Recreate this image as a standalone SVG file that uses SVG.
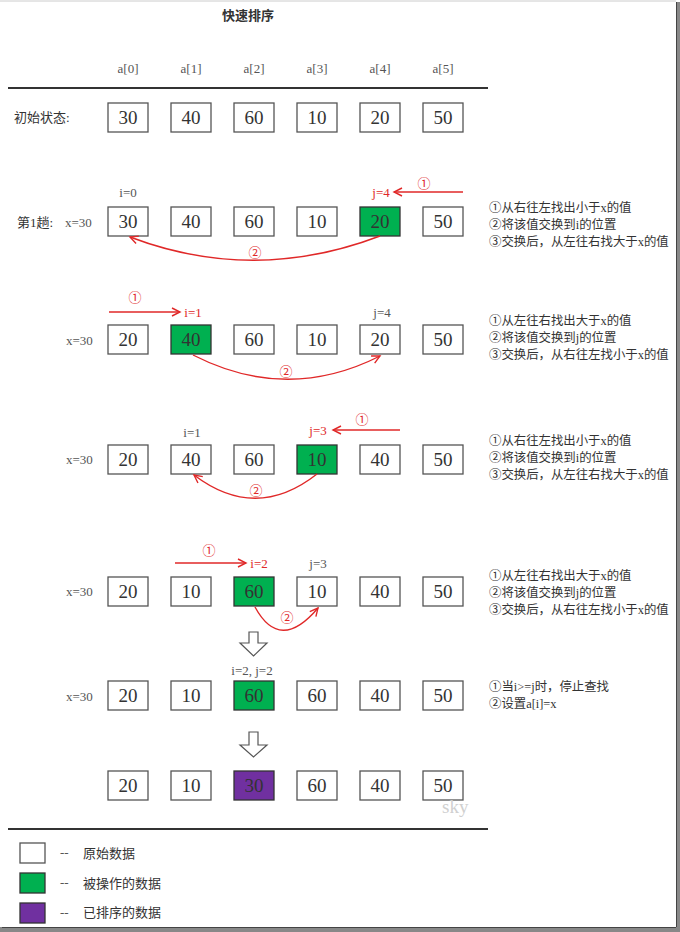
<svg xmlns="http://www.w3.org/2000/svg" width="680" height="932" viewBox="0 0 680 932">
<style>
text{font-family:"Liberation Serif","Noto Sans CJK SC",serif;}
.t{font-size:13px;fill:#333;}
.s{font-size:12.4px;fill:#333;}
.g{font-size:13px;fill:#555;}
.c{text-anchor:middle;}
.r{font-size:13px;fill:#e02828;}
.num{font-size:19px;fill:#333;text-anchor:middle;}
.box{fill:#fff;stroke:#555;stroke-width:1.3;}
.grn{fill:#00b050;stroke:#333;stroke-width:1.3;}
.pur{fill:#7030a0;stroke:#333;stroke-width:1.3;}
.red{fill:none;stroke:#e02828;stroke-width:1.4;}
.hol{fill:#fff;stroke:#555;stroke-width:1.2;}
</style>
<defs>
<marker id="ah" markerUnits="userSpaceOnUse" markerWidth="12" markerHeight="12" refX="9" refY="5" orient="auto">
<path d="M1,1 L9,5 L1,9" fill="none" stroke="#e02828" stroke-width="1.4"/>
</marker>
</defs>
<rect x="0" y="0" width="680" height="932" fill="#fff"/>
<line x1="0" y1="1" x2="676" y2="1" stroke="#ccc" stroke-width="1"/>
<rect x="676" y="2" width="4" height="930" fill="#888"/>
<rect x="0" y="927" width="680" height="5" fill="#888"/>
<line x1="676.5" y1="2" x2="676.5" y2="927" stroke="#444" stroke-width="1"/>
<line x1="2" y1="927.5" x2="676" y2="927.5" stroke="#444" stroke-width="1"/>

<g id="title"><text class="t c" x="248" y="20" font-weight="bold">快速排序</text></g>
<g id="headers">
<text class="g c" x="128" y="73">a[0]</text>
<text class="g c" x="191" y="73">a[1]</text>
<text class="g c" x="254" y="73">a[2]</text>
<text class="g c" x="317" y="73">a[3]</text>
<text class="g c" x="380" y="73">a[4]</text>
<text class="g c" x="443" y="73">a[5]</text>
</g>
<line x1="8" y1="88" x2="488" y2="88" stroke="#333" stroke-width="2"/>

<g id="row0">
<text class="t" x="14" y="122">初始状态:</text>
<rect class="box" x="108" y="103" width="40" height="29"/><text class="num" x="128" y="124">30</text>
<rect class="box" x="171" y="103" width="40" height="29"/><text class="num" x="191" y="124">40</text>
<rect class="box" x="234" y="103" width="40" height="29"/><text class="num" x="254" y="124">60</text>
<rect class="box" x="297" y="103" width="40" height="29"/><text class="num" x="317" y="124">10</text>
<rect class="box" x="360" y="103" width="40" height="29"/><text class="num" x="380" y="124">20</text>
<rect class="box" x="423" y="103" width="40" height="29"/><text class="num" x="443" y="124">50</text>
</g>

<g id="row1">
<text class="t" x="17" y="227">第1趟:</text>
<text class="g" x="65" y="227">x=30</text>
<text class="g c" x="128" y="197">i=0</text>
<text class="r c" x="381" y="197">j=4</text>
<text class="r c" x="424" y="188">①</text>
<rect class="box" x="108" y="207" width="40" height="29"/><text class="num" x="128" y="228">30</text>
<rect class="box" x="171" y="207" width="40" height="29"/><text class="num" x="191" y="228">40</text>
<rect class="box" x="234" y="207" width="40" height="29"/><text class="num" x="254" y="228">60</text>
<rect class="box" x="297" y="207" width="40" height="29"/><text class="num" x="317" y="228">10</text>
<rect class="grn" x="360" y="207" width="40" height="29"/><text class="num" x="380" y="228">20</text>
<rect class="box" x="423" y="207" width="40" height="29"/><text class="num" x="443" y="228">50</text>
<text class="r c" x="255" y="257">②</text>
<text class="s" x="489" y="212">①从右往左找出小于x的值</text>
<text class="s" x="489" y="229">②将该值交换到i的位置</text>
<text class="s" x="489" y="246">③交换后，从左往右找大于x的值</text>
</g>

<g id="row2">
<text class="g" x="66" y="345">x=30</text>
<text class="r c" x="135" y="302">①</text>
<text class="r c" x="193" y="317">i=1</text>
<text class="g c" x="382" y="317">j=4</text>
<rect class="box" x="108" y="325" width="40" height="29"/><text class="num" x="128" y="346">20</text>
<rect class="grn" x="171" y="325" width="40" height="29"/><text class="num" x="191" y="346">40</text>
<rect class="box" x="234" y="325" width="40" height="29"/><text class="num" x="254" y="346">60</text>
<rect class="box" x="297" y="325" width="40" height="29"/><text class="num" x="317" y="346">10</text>
<rect class="box" x="360" y="325" width="40" height="29"/><text class="num" x="380" y="346">20</text>
<rect class="box" x="423" y="325" width="40" height="29"/><text class="num" x="443" y="346">50</text>
<text class="r c" x="286" y="376">②</text>
<text class="s" x="489" y="325">①从左往右找出大于x的值</text>
<text class="s" x="489" y="342">②将该值交换到j的位置</text>
<text class="s" x="489" y="359">③交换后，从右往左找小于x的值</text>
</g>

<g id="row3">
<text class="g" x="66" y="464">x=30</text>
<text class="r c" x="362" y="424">①</text>
<text class="r c" x="318" y="435">j=3</text>
<text class="g c" x="192" y="437">i=1</text>
<rect class="box" x="108" y="445" width="40" height="29"/><text class="num" x="128" y="466">20</text>
<rect class="box" x="171" y="445" width="40" height="29"/><text class="num" x="191" y="466">40</text>
<rect class="box" x="234" y="445" width="40" height="29"/><text class="num" x="254" y="466">60</text>
<rect class="grn" x="297" y="445" width="40" height="29"/><text class="num" x="317" y="466">10</text>
<rect class="box" x="360" y="445" width="40" height="29"/><text class="num" x="380" y="466">40</text>
<rect class="box" x="423" y="445" width="40" height="29"/><text class="num" x="443" y="466">50</text>
<text class="r c" x="256" y="495">②</text>
<text class="s" x="489" y="445">①从右往左找出小于x的值</text>
<text class="s" x="489" y="462">②将该值交换到i的位置</text>
<text class="s" x="489" y="479">③交换后，从左往右找大于x的值</text>
</g>

<g id="row4">
<text class="g" x="66" y="596">x=30</text>
<text class="r c" x="209" y="555">①</text>
<text class="r c" x="259" y="568">i=2</text>
<text class="g c" x="318" y="568">j=3</text>
<rect class="box" x="108" y="577" width="40" height="29"/><text class="num" x="128" y="598">20</text>
<rect class="box" x="171" y="577" width="40" height="29"/><text class="num" x="191" y="598">10</text>
<rect class="grn" x="234" y="577" width="40" height="29"/><text class="num" x="254" y="598">60</text>
<rect class="box" x="297" y="577" width="40" height="29"/><text class="num" x="317" y="598">10</text>
<rect class="box" x="360" y="577" width="40" height="29"/><text class="num" x="380" y="598">40</text>
<rect class="box" x="423" y="577" width="40" height="29"/><text class="num" x="443" y="598">50</text>
<text class="r c" x="287" y="622">②</text>
<text class="s" x="489" y="580">①从左往右找出大于x的值</text>
<text class="s" x="489" y="597">②将该值交换到j的位置</text>
<text class="s" x="489" y="614">③交换后，从右往左找小于x的值</text>
</g>

<g id="row5">
<text class="g" x="66" y="701">x=30</text>
<text class="g c" x="252" y="675">i=2, j=2</text>
<rect class="box" x="108" y="681" width="40" height="29"/><text class="num" x="128" y="702">20</text>
<rect class="box" x="171" y="681" width="40" height="29"/><text class="num" x="191" y="702">10</text>
<rect class="grn" x="234" y="681" width="40" height="29"/><text class="num" x="254" y="702">60</text>
<rect class="box" x="297" y="681" width="40" height="29"/><text class="num" x="317" y="702">60</text>
<rect class="box" x="360" y="681" width="40" height="29"/><text class="num" x="380" y="702">40</text>
<rect class="box" x="423" y="681" width="40" height="29"/><text class="num" x="443" y="702">50</text>
<text class="s" x="489" y="691">①当i&gt;=j时，停止查找</text>
<text class="s" x="489" y="708">②设置a[i]=x</text>
</g>

<g id="row6">
<rect class="box" x="108" y="771" width="40" height="29"/><text class="num" x="128" y="792">20</text>
<rect class="box" x="171" y="771" width="40" height="29"/><text class="num" x="191" y="792">10</text>
<rect class="pur" x="234" y="771" width="40" height="29"/><text class="num" x="254" y="792">30</text>
<rect class="box" x="297" y="771" width="40" height="29"/><text class="num" x="317" y="792">60</text>
<rect class="box" x="360" y="771" width="40" height="29"/><text class="num" x="380" y="792">40</text>
<rect class="box" x="423" y="771" width="40" height="29"/><text class="num" x="443" y="792">50</text>
<text x="442" y="813" font-size="19" fill="#d0d0d0">sky</text>
</g>

<g id="connectors">
<line class="red" x1="463" y1="192" x2="394" y2="192" marker-end="url(#ah)"/>
<path class="red" d="M380,236 Q254,284 130,237" marker-end="url(#ah)"/>
<line class="red" x1="109" y1="312" x2="180" y2="312" marker-end="url(#ah)"/>
<path class="red" d="M193,355 Q287,403 380,356" marker-end="url(#ah)"/>
<line class="red" x1="400" y1="430" x2="333" y2="430" marker-end="url(#ah)"/>
<path class="red" d="M317,474 Q256,522 194,475" marker-end="url(#ah)"/>
<line class="red" x1="175" y1="563" x2="246" y2="563" marker-end="url(#ah)"/>
<path class="red" d="M255,607 Q280,653 318,608" marker-end="url(#ah)"/>
<path class="hol" d="M249,632 H258 V643 H267 L253.5,656 L240,643 H249 Z"/>
<path class="hol" d="M249,732 H258 V745 H267 L253.5,757 L240,745 H249 Z"/>
</g>

<line x1="8" y1="829" x2="488" y2="829" stroke="#333" stroke-width="2"/>
<g id="legend">
<rect class="box" x="20" y="843" width="25" height="20"/>
<text class="g" x="60" y="857">--</text><text class="t" x="83" y="858">原始数据</text>
<rect class="grn" x="20" y="873" width="25" height="20"/>
<text class="g" x="60" y="887">--</text><text class="t" x="83" y="888">被操作的数据</text>
<rect class="pur" x="20" y="903" width="25" height="20"/>
<text class="g" x="60" y="917">--</text><text class="t" x="83" y="917">已排序的数据</text>
</g>
</svg>
